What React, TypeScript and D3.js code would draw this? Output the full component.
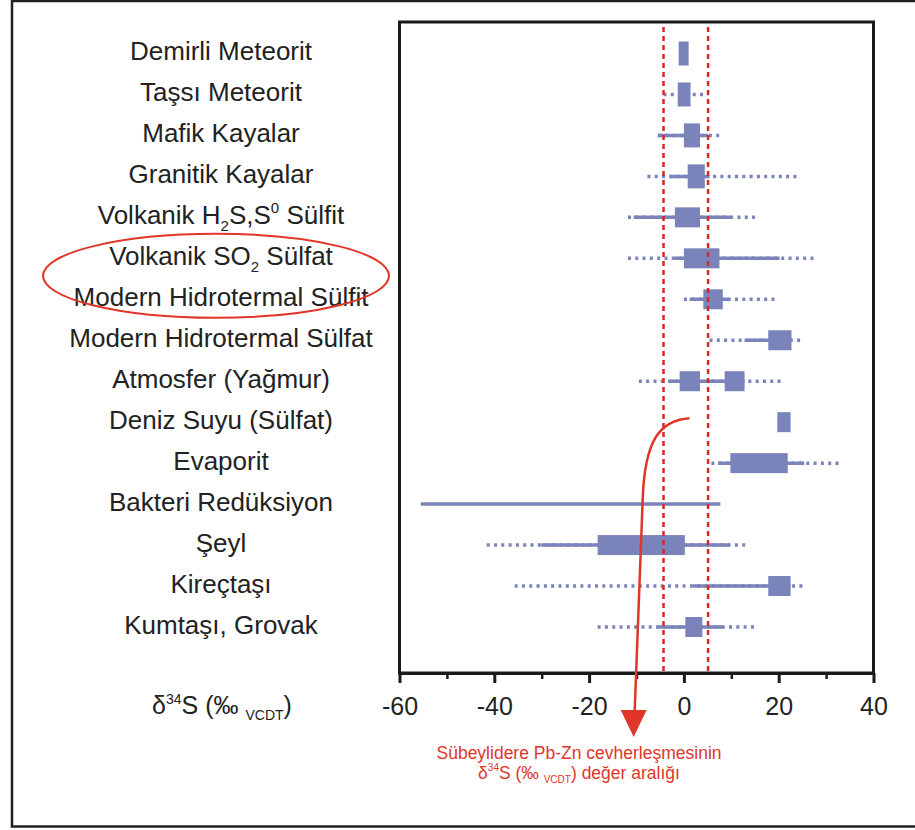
import React, { useEffect, useRef } from "react";
import * as d3 from "d3";

const categories = [
  "Demirli Meteorit",
  "Taşsı Meteorit",
  "Mafik Kayalar",
  "Granitik Kayalar",
  "Volkanik H_{2}S,S^{0} Sülfit",
  "Volkanik SO_{2} Sülfat",
  "Modern Hidrotermal Sülfit",
  "Modern Hidrotermal Sülfat",
  "Atmosfer (Yağmur)",
  "Deniz Suyu (Sülfat)",
  "Evaporit",
  "Bakteri Redüksiyon",
  "Şeyl",
  "Kireçtaşı",
  "Kumtaşı, Grovak",
];

// δ34S ranges (‰), one entry per category
const boxRanges = [
  [-1.1, 1.0],
  [-1.3, 1.4],
  [0, 3.4],
  [0.8, 4.4],
  [-1.9, 3.4],
  [0, 7.5],
  [4.1, 8.2],
  [17.8, 22.7],
  [-0.9, 3.4],
  [19.7, 22.5],
  [9.8, 21.9],
  null,
  [-18.2, 0.2],
  [17.8, 22.5],
  [0.3, 3.9],
];

const secondBoxRanges = [
  null, null, null, null, null, null, null, null,
  [8.6, 12.8],
  null, null, null, null, null, null,
];

const solidRanges = [
  null,
  null,
  [-5.5, 5.1],
  [-3, 5.4],
  [-10.6, 10.0],
  [-2, 20.2],
  [1.2, 9.3],
  [12.8, 22.7],
  [-3, 12.8],
  null,
  [7.2, 25.4],
  [-55.5, 7.7],
  [-30.1, 9.6],
  [1.9, 22.5],
  [-5.5, 8.2],
];

const dottedRanges = [
  null,
  [-4.3, 5.1],
  [-5.5, 8.3],
  [-7.7, 24.5],
  [-11.8, 15.3],
  [-11.8, 27.6],
  [0, 19.5],
  [5.4, 24.7],
  [-9.5, 21.1],
  null,
  [5.8, 33.2],
  null,
  [-41.6, 13.5],
  [-35.7, 25.8],
  [-18.2, 15.3],
];

const oreRange = [-4.3, 5.1];
const xTicks = [-60, -40, -20, 0, 20, 40];
const xMinorTicks = [-50, -30, -10, 10, 30];
const axisLabel = "δ^{34}S (‰ _{VCDT})";
const noteLines = [
  "Sübeylidere Pb-Zn cevherleşmesinin",
  "δ^{34}S (‰ _{VCDT}) değer aralığı",
];

const FONT = "'Liberation Sans', Arial, Helvetica, sans-serif";
const BLUE = "#7b83bb";
const RED = "#e0362a";

// writes text with _{sub} and ^{sup} pieces as tspans
const appendRich = (text, str, small) => {
  const parts = str.split(/([_^]\{[^}]*\})/).filter((s) => s.length);
  let shift = 0;
  parts.forEach((p) => {
    let target = 0;
    let content = p;
    let size = null;
    if (p[0] === "_") {
      target = small * 0.45;
      content = p.slice(2, -1);
      size = small;
    } else if (p[0] === "^") {
      target = -small * 0.75;
      content = p.slice(2, -1);
      size = small;
    }
    const t = text.append("tspan").attr("dy", target - shift).text(content);
    if (size) t.attr("font-size", size);
    shift = target;
  });
};

const App = () => {
  const chartRef = useRef(null);

  useEffect(() => {
    const width = 915;
    const height = 830;
    const plot = { left: 399.5, right: 873.5, top: 22, bottom: 673 };

    const svg = d3
      .select(chartRef.current)
      .attr("width", width)
      .attr("height", height)
      .style("font-family", FONT);

    svg.selectAll("*").remove();

    const x = d3.scaleLinear().domain([-60, 40]).range([plot.left, plot.right]);
    const y = d3.scalePoint().domain(categories).range([53.5, 627]);

    // outer border
    svg
      .append("rect")
      .attr("x", 12)
      .attr("y", 1)
      .attr("width", width)
      .attr("height", 825.5)
      .attr("fill", "white")
      .attr("stroke", "#222")
      .attr("stroke-width", 2.5);

    // plot frame
    svg
      .append("rect")
      .attr("x", plot.left)
      .attr("y", plot.top)
      .attr("width", plot.right - plot.left)
      .attr("height", plot.bottom - plot.top)
      .attr("fill", "none")
      .attr("stroke", "#1a1a1a")
      .attr("stroke-width", 3);

    // category labels
    categories.forEach((c) => {
      const t = svg
        .append("text")
        .attr("x", 221)
        .attr("y", y(c) + 6.5)
        .attr("text-anchor", "middle")
        .attr("font-size", 26)
        .attr("fill", "#222");
      appendRich(t, c, 15);
    });

    // ellipse around two labels
    svg
      .append("ellipse")
      .attr("cx", 216)
      .attr("cy", (y(categories[5]) + y(categories[6])) / 2 - 3)
      .attr("rx", 173)
      .attr("ry", 42)
      .attr("fill", "none")
      .attr("stroke", RED)
      .attr("stroke-width", 2);

    const rows = svg.append("g");

    categories.forEach((c, i) => {
      const cy = y(c);
      const d = dottedRanges[i];
      if (d) {
        rows
          .append("line")
          .attr("x1", x(d[0]))
          .attr("x2", x(d[1]))
          .attr("y1", cy)
          .attr("y2", cy)
          .attr("stroke", BLUE)
          .attr("stroke-width", 3.5)
          .attr("stroke-dasharray", "3,4.3");
      }
      const s = solidRanges[i];
      if (s) {
        rows
          .append("line")
          .attr("x1", x(s[0]))
          .attr("x2", x(s[1]))
          .attr("y1", cy)
          .attr("y2", cy)
          .attr("stroke", BLUE)
          .attr("stroke-width", 3.5);
      }
      const bh = i < 4 ? 24 : 20;
      [boxRanges[i], secondBoxRanges[i]].forEach((b) => {
        if (!b) return;
        rows
          .append("rect")
          .attr("x", x(b[0]))
          .attr("width", x(b[1]) - x(b[0]))
          .attr("y", cy - bh / 2)
          .attr("height", bh)
          .attr("fill", BLUE);
      });
    });

    // ore range dashed lines
    oreRange.forEach((v) => {
      svg
        .append("line")
        .attr("x1", x(v))
        .attr("x2", x(v))
        .attr("y1", plot.top + 5)
        .attr("y2", plot.bottom - 2)
        .attr("stroke", "#d42a20")
        .attr("stroke-width", 2.5)
        .attr("stroke-dasharray", "5,4");
    });

    // x axis
    const axis = svg
      .append("g")
      .attr("transform", `translate(0,${plot.bottom})`)
      .call(
        d3
          .axisBottom(x)
          .tickValues(xTicks)
          .tickSize(10)
          .tickSizeOuter(0)
          .tickPadding(14)
          .tickFormat((d) => `${d}`.replace("−", "-"))
      );
    axis.select(".domain").attr("stroke", "#1a1a1a").attr("stroke-width", 3);
    axis.selectAll(".tick line").attr("stroke", "#1a1a1a").attr("stroke-width", 3);
    axis
      .selectAll(".tick text")
      .attr("font-size", 25)
      .attr("font-family", FONT)
      .attr("fill", "#222");

    const minor = svg
      .append("g")
      .attr("transform", `translate(0,${plot.bottom})`)
      .call(d3.axisBottom(x).tickValues(xMinorTicks).tickSize(6).tickFormat(() => ""));
    minor.select(".domain").remove();
    minor.selectAll(".tick line").attr("stroke", "#1a1a1a").attr("stroke-width", 2.5);

    // axis title
    const at = svg
      .append("text")
      .attr("x", 222)
      .attr("y", 714)
      .attr("text-anchor", "middle")
      .attr("font-size", 25)
      .attr("fill", "#222");
    appendRich(at, axisLabel, 14);

    // red arrow from Deniz Suyu row down below the axis
    const y0 = y(categories[9]) - 4;
    const tipX = x(-10.6);
    const arrow = d3.path();
    arrow.moveTo(x(1.2), y0);
    arrow.bezierCurveTo(x(-5.1), y0 + 2, x(-8.3), y0 + 22, x(-8.7), y0 + 82);
    arrow.lineTo(tipX + 1, 712);
    svg
      .append("path")
      .attr("d", arrow.toString())
      .attr("fill", "none")
      .attr("stroke", RED)
      .attr("stroke-width", 2.5);
    svg
      .append("path")
      .attr("d", `M${tipX - 13},710 L${tipX + 13},710 L${tipX},737 Z`)
      .attr("fill", RED);

    noteLines.forEach((line, i) => {
      const t = svg
        .append("text")
        .attr("x", 579)
        .attr("y", 759 + i * 19.5)
        .attr("text-anchor", "middle")
        .attr("font-size", 17.5)
        .attr("fill", RED);
      appendRich(t, line, 10);
    });
  }, []);

  return (
    <div>
      <svg
        ref={chartRef}
        style={{ position: "absolute", left: 0, top: 0, display: "block" }}
      ></svg>
    </div>
  );
};

export default App;
